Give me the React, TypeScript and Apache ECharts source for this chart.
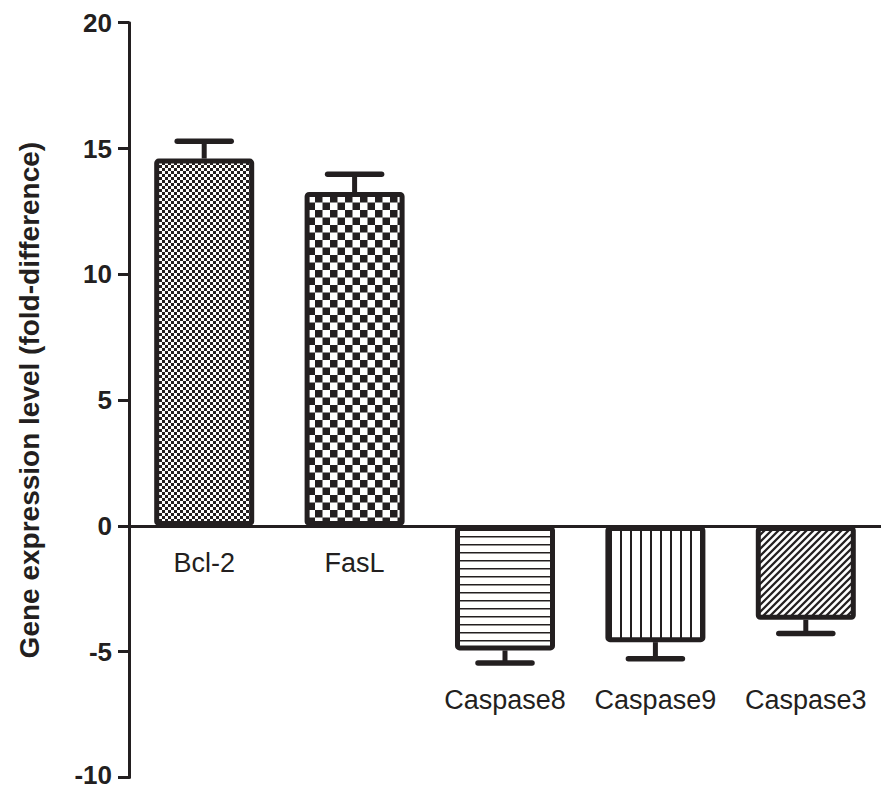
import React, { useEffect, useRef } from "react";
import * as echarts from "echarts";

const categories = ["Bcl-2", "FasL", "Caspase8", "Caspase9", "Caspase3"];
const values = [14.6, 13.27, -4.95, -4.62, -3.73];
const errors = [0.69, 0.71, 0.5, 0.66, 0.55];
const lowLabels = ["Caspase8", "Caspase9", "Caspase3"];
const yTitle = "Gene expression level (fold-difference)";
const Y_MIN = -10;
const Y_MAX = 20;
const Y_STEP = 5;

const INK = "#231f20";
const FONT = "'Liberation Sans', Arial, Helvetica, sans-serif";

const W = 881;
const H = 788;
const GRID_TOP = 22.7;
const GRID_BOTTOM = 10.5;

function makePattern(size: number, scale: number, draw: (ctx: CanvasRenderingContext2D, s: number) => void) {
  const c = document.createElement("canvas");
  c.width = size * scale;
  c.height = size * scale;
  const ctx = c.getContext("2d") as CanvasRenderingContext2D;
  ctx.fillStyle = "#ffffff";
  ctx.fillRect(0, 0, c.width, c.height);
  ctx.fillStyle = INK;
  ctx.strokeStyle = INK;
  draw(ctx, c.width);
  return { image: c, repeat: "repeat", imageWidth: size, imageHeight: size } as any;
}

export default function App() {
  const ref = useRef<HTMLDivElement>(null);
  useEffect(() => {
    if (!ref.current) return;
    const chart = echarts.init(ref.current, null, { renderer: "svg" });

    const patterns = [
      makePattern(6, 2, (ctx, s) => {
        ctx.fillRect(0, 0, s / 2, s / 2);
        ctx.fillRect(s / 2, s / 2, s / 2, s / 2);
      }),
      makePattern(15, 2, (ctx, s) => {
        ctx.fillRect(0, 0, s / 2, s / 2);
        ctx.fillRect(s / 2, s / 2, s / 2, s / 2);
      }),
      makePattern(8, 2, (ctx, s) => {
        ctx.fillRect(0, 0, s, 3);
      }),
      makePattern(10, 2, (ctx, s) => {
        ctx.fillRect(0, 0, 4, s);
      }),
      makePattern(7, 4, (ctx, s) => {
        ctx.lineWidth = 9;
        ctx.beginPath();
        ctx.moveTo(-s, 2 * s);
        ctx.lineTo(2 * s, -s);
        ctx.moveTo(-s, s);
        ctx.lineTo(s, -s);
        ctx.moveTo(0, 2 * s);
        ctx.lineTo(2 * s, 0);
        ctx.stroke();
      }),
    ];

    const barData = values.map((v, i) => ({
      value: v,
      itemStyle: { color: patterns[i] },
    }));
    const errData = values.map((v, i) => [i, v, errors[i]]);

    // move the whole category axis (line, ticks, labels) up to y = 0
    const gridH = H - GRID_TOP - GRID_BOTTOM;
    const zeroOffset = -((0 - Y_MIN) / (Y_MAX - Y_MIN)) * gridH;

    const yLabelStyle = { fontSize: 26, fontWeight: "bold", fontFamily: FONT, color: INK };

    chart.setOption({
      animation: false,
      grid: {
        left: 129,
        right: 0,
        top: GRID_TOP,
        bottom: GRID_BOTTOM,
        containLabel: false,
        outerBoundsMode: "none",
      },
      xAxis: {
        type: "category",
        data: categories,
        z: 10,
        offset: zeroOffset,
        axisLine: { onZero: false, lineStyle: { color: INK, width: 3 } },
        axisTick: { alignWithLabel: true, length: 11, lineStyle: { color: INK, width: 3 } },
        axisLabel: {
          margin: 24,
          interval: 0,
          formatter: (v: string) => (lowLabels.includes(v) ? `{low|${v}}` : `{high|${v}}`),
          rich: {
            high: { fontSize: 27, fontFamily: FONT, color: INK },
            low: { fontSize: 27, fontFamily: FONT, color: INK, padding: [137, 0, 0, 0] },
          },
        },
      },
      yAxis: {
        type: "value",
        min: Y_MIN,
        max: Y_MAX,
        interval: Y_STEP,
        name: yTitle,
        nameLocation: "middle",
        nameGap: 86,
        nameTextStyle: { fontSize: 28, fontWeight: "bold", fontFamily: FONT, color: INK },
        axisLine: { show: true, lineStyle: { color: INK, width: 3 } },
        axisTick: { show: true, length: 11, lineStyle: { color: INK, width: 3 } },
        splitLine: { show: false },
        axisLabel: {
          margin: 17,
          formatter: (v: number) => (v === Y_MIN ? `{edge|${v}}` : `{n|${v}}`),
          rich: {
            n: { ...yLabelStyle, lineHeight: 22 },
            edge: { ...yLabelStyle, lineHeight: 22, padding: [0, 0, 6, 0] },
          },
        },
      },
      series: [
        {
          type: "bar",
          data: barData,
          barWidth: 100,
          itemStyle: { borderColor: INK, borderWidth: 5, borderRadius: 2 },
        },
        {
          type: "custom",
          data: errData,
          z: 5,
          renderItem: (params: any, api: any) => {
            const x = api.value(0);
            const v = api.value(1);
            const e = api.value(2);
            const end = v >= 0 ? v + e : v - e;
            const p0 = api.coord([x, v]);
            const p1 = api.coord([x, end]);
            const half = 27;
            return {
              type: "group",
              children: [
                {
                  type: "line",
                  shape: { x1: p0[0], y1: p0[1], x2: p1[0], y2: p1[1] },
                  style: { stroke: INK, lineWidth: 5 },
                },
                {
                  type: "line",
                  shape: { x1: p1[0] - half, y1: p1[1], x2: p1[0] + half, y2: p1[1] },
                  style: { stroke: INK, lineWidth: 5.5, lineCap: "round" },
                },
              ],
            };
          },
        },
      ],
    });
    return () => chart.dispose();
  }, []);
  return (
    <div
      ref={ref}
      style={{ position: "absolute", left: 0, top: 0, width: W, height: H, background: "#fff" }}
    />
  );
}
